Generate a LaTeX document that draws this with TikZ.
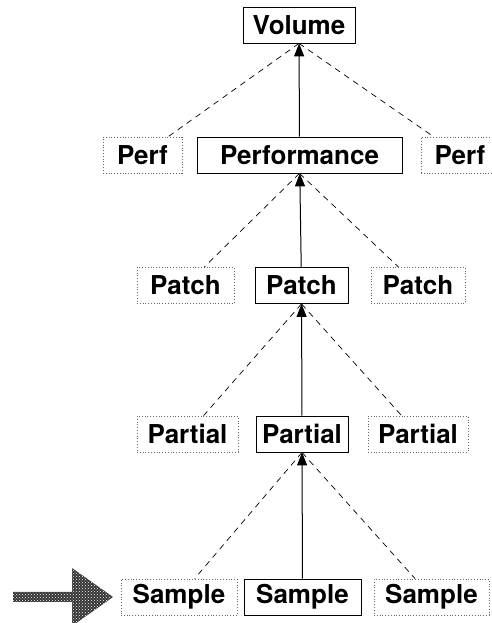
\documentclass[tikz,border=0pt]{standalone}
\usepackage{fontspec}
\setmainfont{TeX Gyre Heros}
\usepackage{tikz}
\usetikzlibrary{arrows.meta, patterns, positioning}

\begin{document}
\begin{tikzpicture}[
    x=1pt, y=1pt,
    mainbox/.style={rectangle, draw=black, line width=0.8pt, minimum height=36pt, inner sep=0pt, align=center, font=\fontsize{26}{30}\selectfont\bfseries},
    altbox/.style={rectangle, draw=black!60, dotted, line width=0.8pt, minimum height=36pt, inner sep=0pt, align=center, font=\fontsize{26}{30}\selectfont\bfseries},
    link/.style={-{Triangle[length=13pt, width=10pt]}, line width=1pt},
    altlink/.style={dash pattern=on 6pt off 5pt, line width=0.7pt},
]
    \useasboundingbox (0,0) rectangle (491,623);

    % Top
    \node[mainbox, minimum width=112pt] (volume) at (299,598) {Volume};

    % Performance row
    \node[altbox, minimum width=79pt] (perfl) at (142.5,468) {Perf};
    \node[mainbox, minimum width=205pt] (perf) at (299.5,468) {Performance};
    \node[altbox, minimum width=78pt] (perfr) at (460,468) {Perf};

    % Patch row
    \node[altbox, minimum width=97pt] (patchl) at (185.5,337.5) {Patch};
    \node[mainbox, minimum width=93pt] (patch) at (301.5,337.5) {Patch};
    \node[altbox, minimum width=94pt] (patchr) at (418,337.5) {Patch};

    % Partial row
    \node[altbox, minimum width=101pt] (partl) at (187.5,189) {Partial};
    \node[mainbox, minimum width=92pt] (part) at (302,189) {Partial};
    \node[altbox, minimum width=100pt] (partr) at (418,189) {Partial};

    % Sample row
    \node[altbox, minimum width=116pt] (sampl) at (179,26) {Sample};
    \node[mainbox, minimum width=117pt] (samp) at (302.5,26) {Sample};
    \node[altbox, minimum width=115pt] (sampr) at (431.5,26) {Sample};

    % Solid links
    \draw[link] (perf) -- (volume);
    \draw[link] (patch) -- (perf);
    \draw[link] (part) -- (patch);
    \draw[link] (samp) -- (part);

    % Dashed links
    \draw[altlink] (volume.south) -- (perfl);
    \draw[altlink] (volume.south) -- (perfr);
    \draw[altlink] (perf.south) -- (patchl);
    \draw[altlink] (perf.south) -- (patchr);
    \draw[altlink] (patch.south) -- (partl);
    \draw[altlink] (patch.south) -- (partr);
    \draw[altlink] (part.south) -- (sampl);
    \draw[altlink] (part.south) -- (sampr);

    % Pointer arrow
    \fill[black!80] (13,31) -- (72,31) -- (72,55) -- (113,26) -- (72,-3) -- (72,21) -- (13,21) -- cycle;
    \fill[pattern=crosshatch dots, pattern color=white] (13,31) -- (72,31) -- (72,55) -- (113,26) -- (72,-3) -- (72,21) -- (13,21) -- cycle;

\end{tikzpicture}
\end{document}
